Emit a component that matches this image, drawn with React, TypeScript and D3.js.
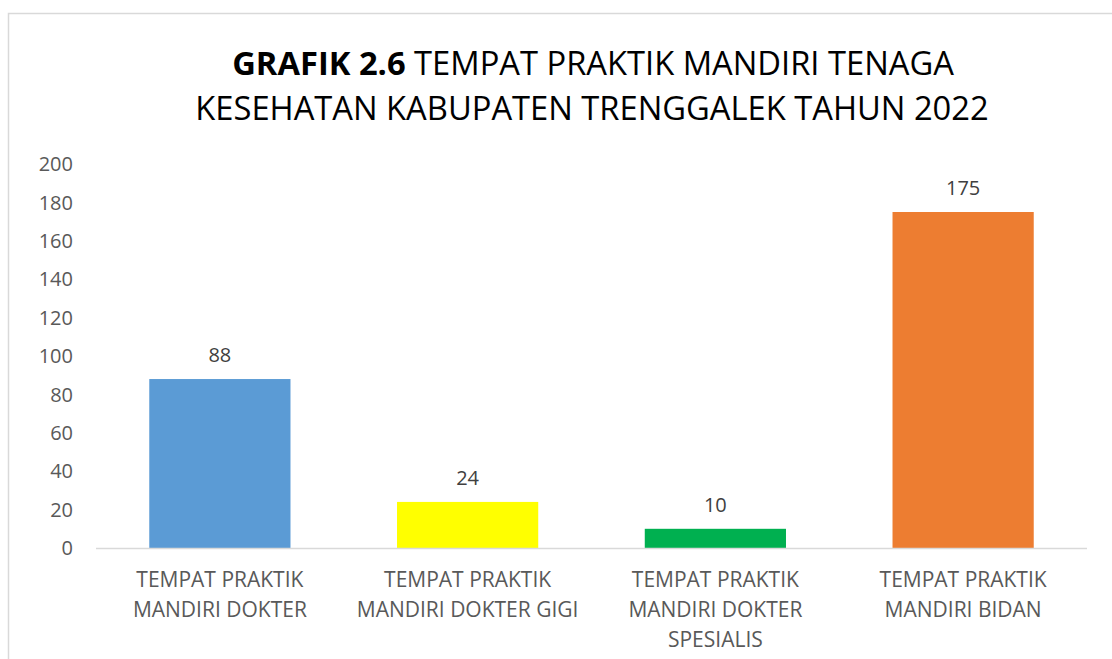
import React from 'react'
import { scaleBand, scaleLinear } from 'd3'

const categories = [
  'TEMPAT PRAKTIK MANDIRI DOKTER',
  'TEMPAT PRAKTIK MANDIRI DOKTER GIGI',
  'TEMPAT PRAKTIK MANDIRI DOKTER SPESIALIS',
  'TEMPAT PRAKTIK MANDIRI BIDAN'
]
const categoryLines = [
  ['TEMPAT PRAKTIK', 'MANDIRI DOKTER'],
  ['TEMPAT PRAKTIK', 'MANDIRI DOKTER GIGI'],
  ['TEMPAT PRAKTIK', 'MANDIRI DOKTER', 'SPESIALIS'],
  ['TEMPAT PRAKTIK', 'MANDIRI BIDAN']
]
const values = [88, 24, 10, 175]
const barColors = ['#5B9BD5', '#FFFF00', '#00B050', '#ED7D31']
const yTicks = [0, 20, 40, 60, 80, 100, 120, 140, 160, 180, 200]

const FONT = '"Open Sans", sans-serif'

const App = () => {
  const width = 1112
  const height = 659

  const x = scaleBand()
    .domain(categories)
    .range([96, 1087])
    .paddingInner(0.43)
    .paddingOuter(0.215)

  const y = scaleLinear().domain([0, 200]).range([548, 164])

  return (
    <svg width={width} height={height} style={{ position: 'absolute', left: 0, top: 0 }}>
      <rect x={0} y={0} width={width} height={height} fill="#fff" />
      <rect x={8.5} y={13.5} width={1120} height={670} fill="#fff" stroke="#d9d9d9" strokeWidth={1.5} />

      {/* title */}
      <text x={593} y={75} textAnchor="middle" fontFamily={FONT} fontSize={32.7} fill="#000">
        <tspan fontWeight="bold">GRAFIK 2.6</tspan>
        <tspan> TEMPAT PRAKTIK MANDIRI TENAGA</tspan>
      </text>
      <text x={592} y={120} textAnchor="middle" fontFamily={FONT} fontSize={32.7} fill="#000">
        KESEHATAN KABUPATEN TRENGGALEK TAHUN 2022
      </text>

      {/* y axis labels */}
      {yTicks.map(t => (
        <text key={t} x={73} y={y(t)} dy="0.36em" textAnchor="end" fontFamily={FONT} fontSize={20} fill="#595959">
          {t}
        </text>
      ))}

      {/* bars */}
      {categories.map((c, i) => (
        <g key={c}>
          <rect
            x={x(c)}
            y={y(values[i])}
            width={x.bandwidth()}
            height={y(0) - y(values[i])}
            fill={barColors[i]}
          />
          <text
            x={(x(c) || 0) + x.bandwidth() / 2}
            y={y(values[i]) - 17}
            textAnchor="middle"
            fontFamily={FONT}
            fontSize={20}
            fill="#404040"
          >
            {values[i]}
          </text>
          {categoryLines[i].map((line, j) => (
            <text
              key={j}
              x={(x(c) || 0) + x.bandwidth() / 2}
              y={587 + j * 30}
              textAnchor="middle"
              fontFamily={FONT}
              fontSize={21}
              fill="#595959"
            >
              {line}
            </text>
          ))}
        </g>
      ))}

      {/* baseline */}
      <line x1={96} x2={1087} y1={y(0) + 0.5} y2={y(0) + 0.5} stroke="#d9d9d9" strokeWidth={1.5} />
    </svg>
  )
}

export default App
